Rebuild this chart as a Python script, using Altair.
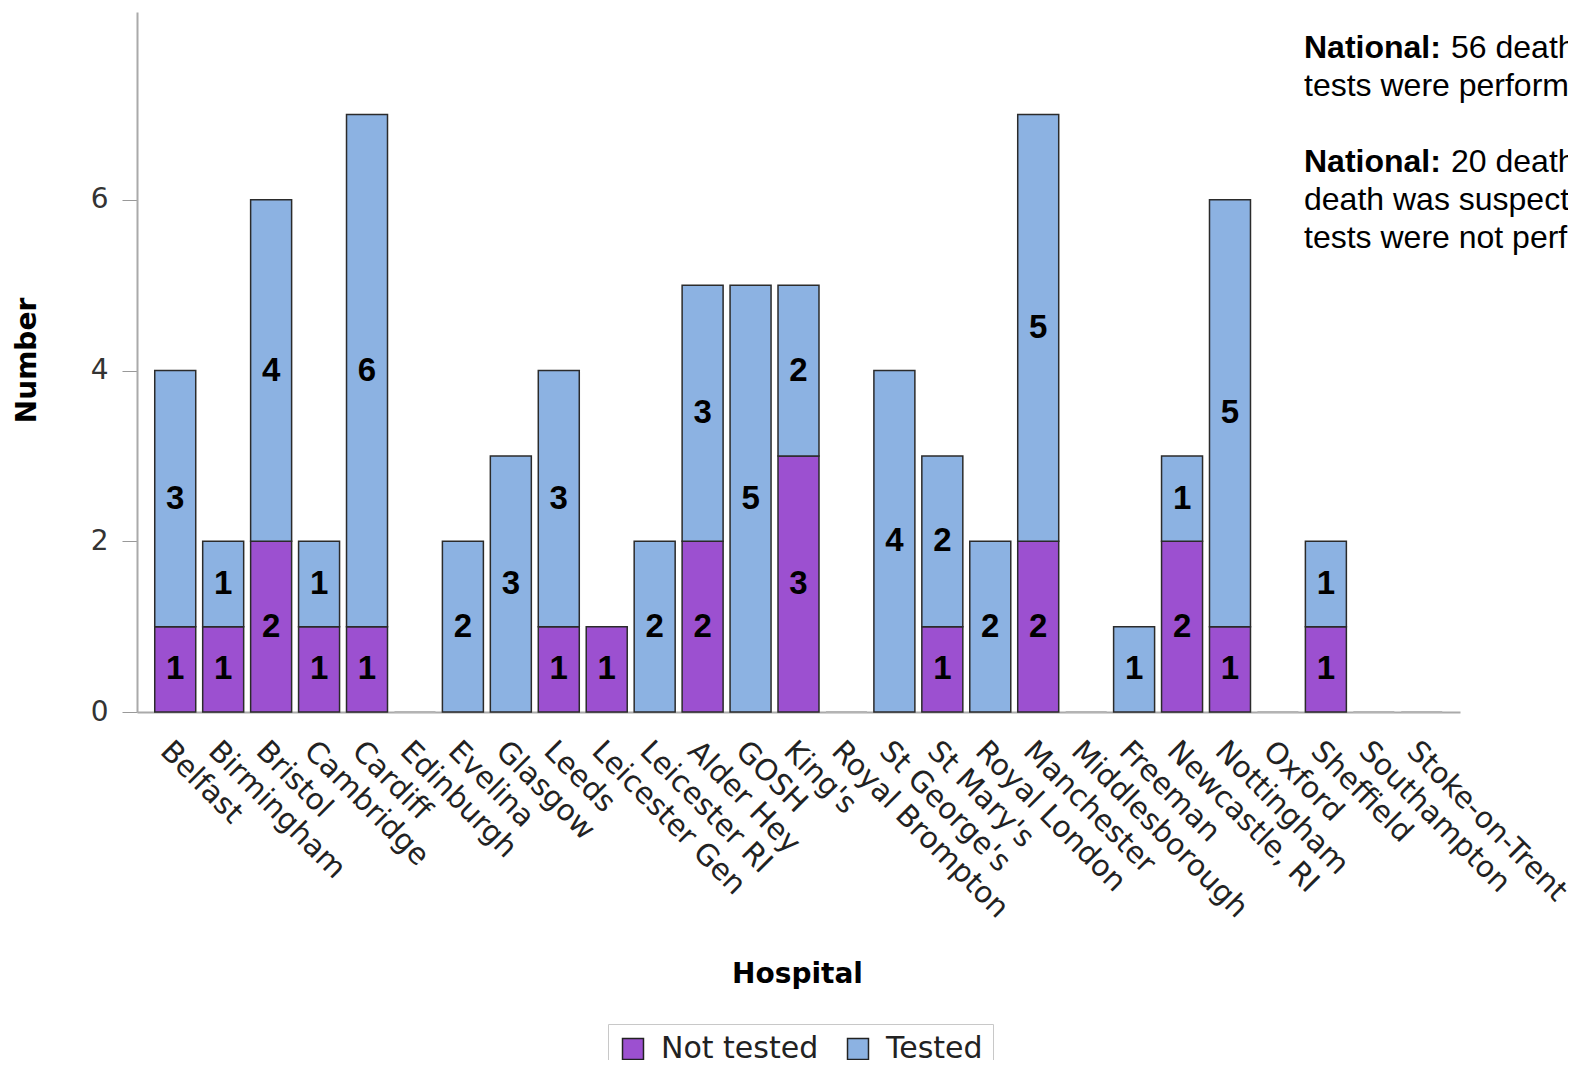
import altair as alt
import pandas as pd

hospitals = ["Belfast", "Birmingham", "Bristol", "Cambridge", "Cardiff", "Edinburgh",
             "Evelina", "Glasgow", "Leeds", "Leicester Gen", "Leicester RI", "Alder Hey",
             "GOSH", "King's", "Royal Brompton", "St George's", "St Mary's", "Royal London",
             "Manchester", "Middlesborough", "Freeman", "Newcastle, RI", "Nottingham",
             "Oxford", "Sheffield", "Southampton", "Stoke-on-Trent"]
not_tested = [1, 1, 2, 1, 1, 0, 0, 0, 1, 1, 0, 2, 0, 3, 0, 0, 1, 0, 2, 0, 0, 2, 1, 0, 1, 0, 0]
tested = [3, 1, 4, 1, 6, 0, 2, 3, 3, 0, 2, 3, 5, 2, 0, 4, 2, 2, 5, 0, 1, 1, 5, 0, 1, 0, 0]
series = ["Not tested", "Tested"]
colors = ["#9c50d0", "#8cb2e2"]
y_ticks = [0, 2, 4, 6]

note_bold = "National:"
note1_first = "56 death"
note1_rest = ["tests were performe"]
note2_first = "20 death"
note2_rest = ["death was suspecte", "tests were not perfo"]

rows = []
for h, a, b in zip(hospitals, not_tested, tested):
    rows.append({"hospital": h, "series": series[0], "ord": 0, "value": a})
    rows.append({"hospital": h, "series": series[1], "ord": 1, "value": b})
df = pd.DataFrame(rows)
empty_df = pd.DataFrame({"hospital": [h for h, a, b in zip(hospitals, not_tested, tested) if a + b == 0],
                         "zero": 0})

W, H = 1323, 700
LEFT = 129

x_enc = alt.X(
    "hospital:N",
    scale=alt.Scale(domain=hospitals, paddingInner=0.145, paddingOuter=0.37),
    axis=alt.Axis(
        title="Hospital", labelAngle=45, labelAlign="left", labelBaseline="top",
        labelFont="DejaVu Sans", labelFontSize=29.5, labelColor="#222", labelPadding=24,
        ticks=False, domainColor="#aaaaaa", domainWidth=2, labelOverlap=False, labelLimit=0,
        titleFont="DejaVu Sans", titleFontSize=28, titleFontWeight="bold", titleColor="#000",
        titleX=660, titleY=262, titleBaseline="middle", titleAlign="center",
    ),
)
y_scale = alt.Scale(domain=[0, 8.2], nice=False, zero=True)
y_axis = alt.Axis(
    values=y_ticks, format="d", title="Number", tickSize=15, tickColor="#999999",
    domainColor="#aaaaaa", domainWidth=2, labelFont="DejaVu Sans", labelFontSize=28,
    labelColor="#333", labelPadding=14, grid=False, titleX=-110, titleY=348,
    titleBaseline="middle", titleAlign="center", titleFont="DejaVu Sans", titleFontSize=28,
    titleFontWeight="bold", titleColor="#000",
)

stacked = (
    alt.Chart(df)
    .transform_stack(stack="value", groupby=["hospital"], as_=["y0", "y1"],
                     sort=[alt.SortField("ord", order="ascending")])
    .transform_calculate(mid="(datum.y0 + datum.y1) / 2")
    .transform_filter("datum.value > 0")
)

bars = stacked.mark_bar(stroke="#2b2b2b", strokeWidth=1.5).encode(
    x=x_enc,
    y=alt.Y("y0:Q", scale=y_scale, axis=y_axis),
    y2="y1:Q",
    color=alt.Color(
        "series:N",
        scale=alt.Scale(domain=series, range=colors),
        legend=alt.Legend(
            title=None, orient="none", legendX=471, legendY=1012, direction="horizontal",
            strokeColor="#c8c8c8", fillColor="white", padding=10, symbolType="square",
            symbolSize=440, symbolStrokeColor="#222", symbolStrokeWidth=1.5,
            symbolOpacity=1, labelFont="DejaVu Sans", labelFontSize=30, labelColor="#222",
            columnPadding=24, labelOffset=13,
        ),
    ),
)

labels = stacked.mark_text(
    font="Liberation Sans", fontWeight="bold", fontSize=33, color="black", baseline="middle"
).encode(
    x=alt.X("hospital:N", scale=alt.Scale(domain=hospitals)),
    y=alt.Y("mid:Q"),
    text=alt.Text("value:Q"),
)

zeros = alt.Chart(empty_df).mark_bar(stroke="#b4b4b4", strokeWidth=2, fill="#b4b4b4").encode(
    x=alt.X("hospital:N", scale=alt.Scale(domain=hospitals)),
    y=alt.Y("zero:Q"),
    y2="zero:Q",
)

one = pd.DataFrame({"k": [0]})
NX = 1308 - 8 - LEFT - 4
FS = 32
GAP = 147
ann = [
    alt.Chart(one).mark_text(text=note_bold, x=NX, y=46, align="left", baseline="alphabetic",
                             font="Liberation Sans", fontSize=FS, fontWeight="bold", color="black"),
    alt.Chart(one).mark_text(text=note1_first, x=NX + GAP, y=46, align="left", baseline="alphabetic",
                             font="Liberation Sans", fontSize=FS, color="black"),
    alt.Chart(one).mark_text(text=note1_rest, x=NX, y=84, align="left", baseline="alphabetic",
                             font="Liberation Sans", fontSize=FS, color="black", lineHeight=38),
    alt.Chart(one).mark_text(text=note_bold, x=NX, y=160, align="left", baseline="alphabetic",
                             font="Liberation Sans", fontSize=FS, fontWeight="bold", color="black"),
    alt.Chart(one).mark_text(text=note2_first, x=NX + GAP, y=160, align="left", baseline="alphabetic",
                             font="Liberation Sans", fontSize=FS, color="black"),
    alt.Chart(one).mark_text(text=note2_rest, x=NX, y=198, align="left", baseline="alphabetic",
                             font="Liberation Sans", fontSize=FS, color="black", lineHeight=38),
]

chart = (
    alt.layer(zeros, bars, labels, *ann)
    .properties(
        width=W, height=H,
        autosize=alt.AutoSizeParams(type="none"),
        padding={"left": LEFT, "top": 4, "right": 108, "bottom": 348},
        background="white",
    )
    .configure_view(strokeWidth=0)
)

chart.save("out.html", embed_options={"renderer": "svg", "actions": False})
